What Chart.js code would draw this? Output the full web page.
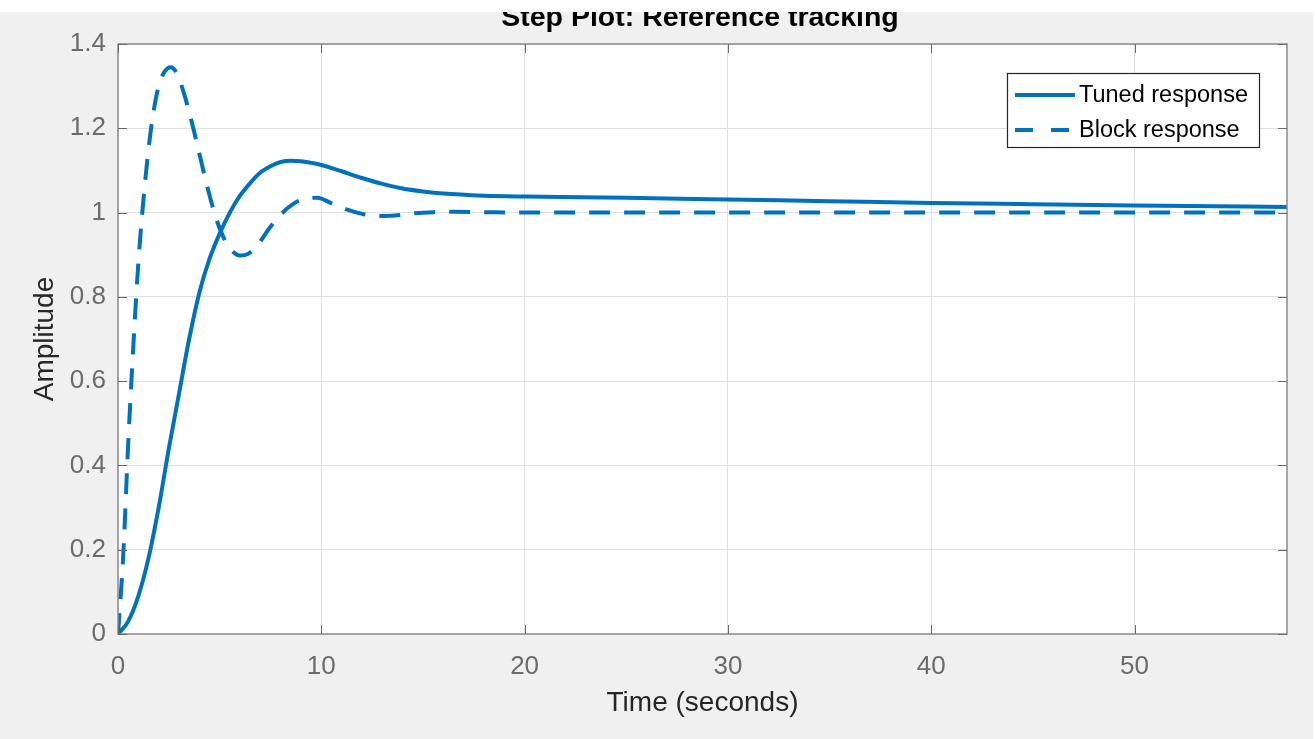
<!DOCTYPE html>
<html>
<head>
<meta charset="utf-8">
<script src="https://cdn.jsdelivr.net/npm/chart.js@4"></script>
<style>
  html, body { margin: 0; padding: 0; background: #ffffff; }
  #wrap { position: absolute; left: 0; top: 0; width: 1315px; height: 739px; }
</style>
</head>
<body>
<div id="wrap"><canvas id="stepChart" width="1315" height="739"></canvas></div>
<script>
// step response data
const tunedT = [0, 0.5, 1, 1.5, 2, 2.5, 3, 3.5, 4, 4.5, 5, 5.5, 6, 6.5, 7, 7.5, 8, 8.5, 9, 9.5, 10, 11, 12, 13, 14, 15, 16, 18, 20, 25, 30, 35, 40, 45, 50, 57.5];
const tunedY = [0, 0.03, 0.09, 0.18, 0.3, 0.44, 0.57, 0.7, 0.81, 0.89, 0.95, 1.0, 1.04, 1.07, 1.095, 1.11, 1.12, 1.123, 1.122, 1.118, 1.113, 1.098, 1.082, 1.068, 1.057, 1.05, 1.045, 1.04, 1.038, 1.035, 1.031, 1.027, 1.023, 1.02, 1.017, 1.013];

const blockT = [0, 0.25, 0.5, 0.75, 1.0, 1.25, 1.5, 1.75, 2.0, 2.3, 2.6, 2.9, 3.2, 3.6, 4.0, 4.4, 4.8, 5.2, 5.6, 6.0, 6.4, 6.9, 7.4, 8.0, 8.6, 9.2, 9.8, 10.5, 11.2, 12, 12.8, 13.6, 14.5, 15.5, 16.5, 18, 20, 25, 57.5];
const blockY = [0, 0.18, 0.45, 0.68, 0.88, 1.03, 1.15, 1.24, 1.3, 1.335, 1.345, 1.33, 1.29, 1.22, 1.14, 1.06, 0.99, 0.94, 0.91, 0.898, 0.902, 0.925, 0.96, 0.995, 1.02, 1.033, 1.035, 1.022, 1.008, 0.997, 0.992, 0.993, 0.998, 1.001, 1.002, 1.001, 1.0, 1.0, 1.0];

const xTicks = [0, 10, 20, 30, 40, 50];
const yTicks = [0, 0.2, 0.4, 0.6, 0.8, 1, 1.2, 1.4];
const seriesNames = ["Tuned response", "Block response"];

const lineColor = "#0072BD";
const dashPattern = [21, 14];
const fontFam = "'Liberation Sans', Arial, sans-serif";

const toPoints = (ts, ys) => ts.map((t, i) => ({ x: t, y: ys[i] }));

// figure background, axes box, inner tick marks, title and legend
const matlabLook = {
  id: "matlabLook",
  beforeDraw(chart) {
    const { ctx, chartArea: a } = chart;
    ctx.save();
    ctx.fillStyle = "#f0f0f0";
    ctx.fillRect(0, 0, chart.width, chart.height);
    ctx.fillStyle = "#ffffff";
    ctx.fillRect(a.left, a.top, a.right - a.left, a.bottom - a.top);
    ctx.restore();
  },
  afterDatasetsDraw(chart) {
    const { ctx, chartArea: a, scales } = chart;
    ctx.save();
    // box
    ctx.strokeStyle = "#8a8a8a";
    ctx.lineWidth = 1.5;
    ctx.strokeRect(a.left, a.top, a.right - a.left, a.bottom - a.top);
    // inner tick marks
    ctx.strokeStyle = "#6a6a6a";
    ctx.lineWidth = 1;
    const tl = 9;
    xTicks.forEach(v => {
      const px = Math.round(scales.x.getPixelForValue(v)) + 0.5;
      ctx.beginPath();
      ctx.moveTo(px, a.bottom); ctx.lineTo(px, a.bottom - tl);
      ctx.moveTo(px, a.top); ctx.lineTo(px, a.top + tl);
      ctx.stroke();
    });
    yTicks.forEach(v => {
      const py = Math.round(scales.y.getPixelForValue(v)) + 0.5;
      ctx.beginPath();
      ctx.moveTo(a.left, py); ctx.lineTo(a.left + tl, py);
      ctx.moveTo(a.right, py); ctx.lineTo(a.right - tl, py);
      ctx.stroke();
    });

    // legend
    const lx = 1007, ly = 73, lw = 252, lh = 74;
    ctx.fillStyle = "#ffffff";
    ctx.fillRect(lx, ly, lw, lh);
    ctx.strokeStyle = "#262626";
    ctx.lineWidth = 1.2;
    ctx.strokeRect(lx + 0.5, ly + 0.5, lw, lh);
    ctx.font = "23.5px " + fontFam;
    ctx.textBaseline = "middle";
    ctx.fillStyle = "#000000";
    const rows = [ly + 22, ly + 57];
    rows.forEach((ry, i) => {
      ctx.strokeStyle = lineColor;
      ctx.lineWidth = 4;
      ctx.setLineDash(i === 0 ? [] : [18, 18]);
      ctx.beginPath();
      ctx.moveTo(lx + 8, ry); ctx.lineTo(lx + 68, ry);
      ctx.stroke();
      ctx.setLineDash([]);
      ctx.fillText(seriesNames[i], lx + 72, ry + 1);
    });

    // title, top clipped by the white strip
    ctx.font = "bold 28.5px " + fontFam;
    ctx.textAlign = "center";
    ctx.textBaseline = "alphabetic";
    ctx.fillStyle = "#000000";
    ctx.fillText("Step Plot: Reference tracking", 700, 26);
    ctx.fillStyle = "#ffffff";
    ctx.fillRect(0, 0, chart.width, 12);
    ctx.fillRect(1313, 0, 2, chart.height);
    ctx.restore();
  }
};

new Chart(document.getElementById("stepChart").getContext("2d"), {
  type: "line",
  data: {
    datasets: [
      {
        label: seriesNames[0],
        data: toPoints(tunedT, tunedY),
        borderColor: lineColor,
        borderWidth: 4,
        pointRadius: 0,
        cubicInterpolationMode: "monotone",
        fill: false,
      },
      {
        label: seriesNames[1],
        data: toPoints(blockT, blockY),
        borderColor: lineColor,
        borderWidth: 4,
        borderDash: dashPattern,
        pointRadius: 0,
        cubicInterpolationMode: "monotone",
        fill: false,
      },
    ],
  },
  options: {
    responsive: false,
    animation: false,
    devicePixelRatio: 1,
    layout: { padding: { top: 44, right: 28, left: 0, bottom: 0 } },
    plugins: {
      legend: { display: false },
      tooltip: { enabled: false },
      title: { display: false },
    },
    scales: {
      x: {
        type: "linear",
        min: 0,
        max: 57.5,
        afterFit(scale) { scale.height = 105; },
        afterBuildTicks(scale) { scale.ticks = xTicks.map(v => ({ value: v })); },
        grid: { color: "#e0e0e0", lineWidth: 1, drawTicks: false },
        border: { display: false },
        ticks: {
          color: "#6b6b6b",
          padding: 17,
          font: { family: fontFam, size: 26 },
          maxRotation: 0,
        },
        title: {
          display: true,
          text: "Time (seconds)",
          color: "#262626",
          font: { family: fontFam, size: 28 },
          padding: { top: 0, bottom: 19 },
        },
      },
      y: {
        min: 0,
        max: 1.4,
        afterFit(scale) { scale.width = 118; },
        afterBuildTicks(scale) { scale.ticks = yTicks.map(v => ({ value: v })); },
        grid: { color: "#e0e0e0", lineWidth: 1, drawTicks: false },
        border: { display: false },
        ticks: {
          color: "#6b6b6b",
          padding: 12,
          font: { family: fontFam, size: 26 },
          callback: v => String(Math.round(v * 10) / 10),
        },
        title: {
          display: true,
          text: "Amplitude",
          color: "#262626",
          font: { family: fontFam, size: 28 },
          padding: { top: 28, bottom: 0 },
        },
      },
    },
  },
  plugins: [matlabLook],
});
</script>
</body>
</html>
